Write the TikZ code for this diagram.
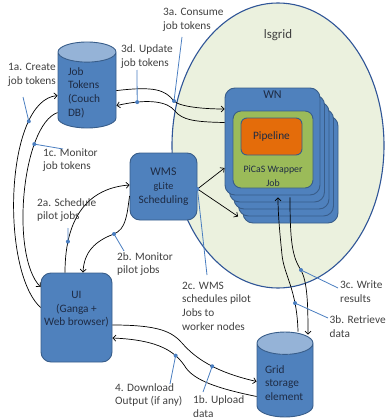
\documentclass[tikz,border=0pt]{standalone}
\usepackage{fontspec}
\setmainfont{Carlito}
\usepackage{tikz}
\usetikzlibrary{shapes.geometric,positioning,arrows.meta}

\definecolor{boxblue}{HTML}{4F81BD}
\definecolor{boxedge}{HTML}{385D8A}
\definecolor{capblue}{HTML}{95B3D7}
\definecolor{gridfill}{HTML}{EBF1DE}
\definecolor{gridedge}{HTML}{2F5597}
\definecolor{jobgreen}{HTML}{9BBB59}
\definecolor{pipeorange}{HTML}{E46C0A}
\definecolor{tagblue}{HTML}{4A7EC0}
\definecolor{labelgray}{HTML}{404040}
\definecolor{boxtext}{HTML}{1E2B44}

\tikzset{
  bluebox/.style={draw=boxedge, fill=boxblue, line width=0.9pt, rounded corners=10pt, text=boxtext, align=center},
  wnbox/.style={bluebox, minimum width=95pt, minimum height=107pt},
  store/.style={cylinder, shape border rotate=90, anchor=shape center, draw=boxedge, line width=0.9pt,
    cylinder uses custom fill, cylinder body fill=boxblue, cylinder end fill=capblue, text=boxtext, align=left},
  flow/.style={-{Straight Barb[length=3pt,width=6pt]}, line width=0.7pt, black},
  tag/.style={draw=tagblue, line width=0.8pt},
  note/.style={text=labelgray, align=left, anchor=west, inner sep=0pt},
}

\begin{document}
\begin{tikzpicture}[x=1pt, y=-1pt, font=\fontsize{11.3}{13.7}\selectfont]
    \useasboundingbox (0,0) rectangle (386,420);
    %lsgrid
    \node[ellipse, draw=gridedge, fill=gridfill, line width=1.1pt, minimum width=212pt, minimum height=285pt,
      label={[anchor=north, yshift=-24pt, text=labelgray, font=\fontsize{12.9}{15}\selectfont]north:lsgrid}] (grid) at (278,145.5) {};
    %worker nodes
    \foreach \k in {4,3,2,1}
      \node[wnbox] (wn\k) at (272.5+4.5*\k, 141.5+7*\k) {};
    \node[wnbox, label={[anchor=north, text=boxtext, font=\fontsize{12}{14}\selectfont]north:WN}] (wn) at (272.5,141.5) {};
    \node[draw=boxedge, fill=jobgreen, line width=0.9pt, rounded corners=8pt, minimum width=80pt, minimum height=77pt,
      label={[anchor=south, align=center, text=boxtext, inner sep=2pt, font=\fontsize{9.8}{13.5}\selectfont]south:PiCaS Wrapper\\Job}] (wrap) at (273,149.5) {};
    \node[draw=boxedge, fill=pipeorange, line width=0.9pt, rounded corners=6pt, minimum width=61pt, minimum height=37pt,
      text=boxtext] (pipe) at (271.5,136.5) {Pipeline};
    %services
    \node[bluebox, minimum width=67pt, minimum height=67pt] (wms) at (163.5,186.5)
      {\fontsize{11.8}{14}\selectfont WMS\\\fontsize{10.2}{13.5}\selectfont gLite\\Scheduling};
    \node[bluebox, minimum width=71pt, minimum height=89pt,
      label={[anchor=north, yshift=-15pt, align=center, text=boxtext]north:UI\\(Ganga +\\Web browser)}] (ui) at (76.5,317.5) {};
    \node[store, aspect=0.45, minimum width=58pt, minimum height=86pt, text width=38pt] (jt) at (87,85) {Job\\Tokens\\(Couch\\DB)};
    \node[store, aspect=0.48, minimum width=56pt, minimum height=85pt, text width=40pt] (gse) at (285,374.5) {Grid\\storage\\element};
    %edges
    \draw[flow] ([yshift=10pt]ui.west) .. controls (0,270) and (5,100) .. ([yshift=-3pt]jt.west) coordinate[pos=.77] (d1a);
    \draw[flow] ([yshift=-20pt]jt.west) .. controls (22,125) and (10,255) .. ([yshift=30.5pt]ui.west) coordinate[pos=.27] (d1c);
    \draw[flow] ([xshift=-11.5pt]ui.north) .. controls (65,215) and (90,188) .. ([yshift=1.5pt]wms.west) coordinate[pos=.2] (d2a);
    \draw[flow] ([yshift=-9.5pt]wms.west) .. controls (127,215) and (126,229) .. (114,234) coordinate (d2b)
      .. controls (95,241) and (84,252) .. ([xshift=6.5pt]ui.north);
    \draw[flow] ([yshift=-2.5pt]wms.east) coordinate (d2c) -- ([yshift=-26.5pt]wn.west);
    \draw[flow] (d2c) -- (wn3.south west);
    \draw[flow] ([yshift=2pt]jt.east) .. controls (155,86) and (165,90) .. (174,101) coordinate (d3a)
      .. controls (180,107) and (205,109) .. ([yshift=32.5pt]wn.west);
    \draw[flow] ([yshift=19pt]wn.west) .. controls (195,122) and (182,120) .. (175,111)
      .. controls (168,102) and (150,98) .. ([yshift=-13pt]jt.east) coordinate[pos=.77] (d3d);
    \draw[flow] ([xshift=13pt]gse.north) .. controls (297,290) and (284,275) .. (282,255) coordinate[pos=.27] (d3b)
      .. controls (280,235) and (278,215) .. ([xshift=5.5pt,yshift=-2pt]wn.south);
    \draw[flow] ([xshift=17.5pt,yshift=-2pt]wn.south) .. controls (290,240) and (292,257) .. (301,270) coordinate (d3c)
      .. controls (307,282) and (308,300) .. ([xshift=23pt,yshift=-3pt]gse.north);
    \draw[flow] ([yshift=-7.5pt]ui.east) .. controls (160,325) and (172,332) .. (182,343)
      .. controls (195,358) and (215,372) .. ([yshift=1.5pt]gse.west) coordinate[pos=.55] (d1b);
    \draw[flow] ([yshift=-13.5pt]gse.west) .. controls (215,388) and (195,380) .. (186,368)
      .. controls (176,352) and (160,340) .. ([yshift=-20.5pt]ui.east) coordinate[pos=.28] (d4);
    %labels
    \node[note] (n1a) at (8,75) {1a. Create\\job tokens};
    \node[note] (n1c) at (43,160) {1c. Monitor\\job tokens};
    \node[note] (n2a) at (37,210) {2a. Schedule\\pilot jobs};
    \node[note] (n2b) at (117,264) {2b. Monitor\\pilot jobs};
    \node[note] (n2c) at (182,306) {2c. WMS\\schedules pilot\\Jobs to\\worker nodes};
    \node[note] (n3a) at (163,19.5) {3a. Consume\\job tokens};
    \node[note] (n3d) at (121,56.5) {3d. Update\\job tokens};
    \node[note] (n3c) at (340,292) {3c. Write\\results};
    \node[note] (n3b) at (329.5,326.5) {3b. Retrieve\\data};
    \node[note] (n4) at (115,395) {4. Download\\Output (if any)};
    \node[note] (n1b) at (193,406.5) {1b. Upload\\data};
    %leaders
    \coordinate (t1a) at (23,97);
    \coordinate (t1c) at (63,149);
    \coordinate (t2a) at (68,228);
    \coordinate (t2b) at (124,251);
    \coordinate (t2c) at (207,275);
    \coordinate (t3a) at (182,37);
    \coordinate (t3d) at (137,70);
    \coordinate (t3c) at (338,288);
    \coordinate (t3b) at (328,318);
    \coordinate (t4) at (170,384);
    \coordinate (t1b) at (203,392);
    \foreach \t in {1a,1c,2a,2b,2c,3a,3d,3c,3b,4,1b} {
      \draw[tag] (t\t) -- (d\t);
      \fill[tagblue] (d\t) circle (2pt);
    }
\end{tikzpicture}
\end{document}
